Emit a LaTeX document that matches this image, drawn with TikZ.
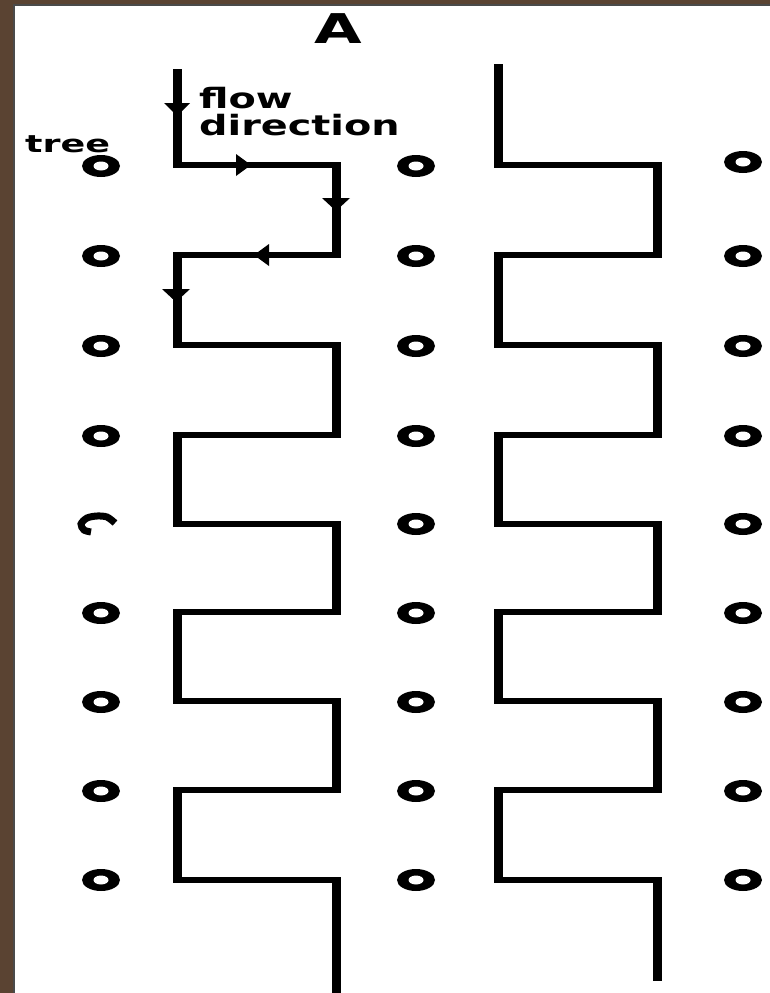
\documentclass[tikz,border=0pt]{standalone}
\usepackage{fontspec}
\newfontfamily\lblfont{DejaVu Sans}
\definecolor{framebrown}{HTML}{5A4332}
\definecolor{edgegray}{HTML}{4A4A4A}
\begin{document}
\begin{tikzpicture}[x=1pt,y=-1pt,
  vline/.style={line width=9pt, shorten <=-3pt, shorten >=-3pt},
  hline/.style={line width=6pt},
  lbl/.style={inner sep=0pt, font=\lblfont\bfseries},
  flowtip/.style={fill=black}]
\useasboundingbox (0,0) rectangle (770,993);
\fill[framebrown] (0,0) rectangle (770,993);
\fill[white] (15,6) rectangle (770,993);
\draw[edgegray, line width=2pt] (14,993) -- (14,5) -- (770,5);

% labels
\node[lbl, anchor=base] (A) at (338,43) {\fontsize{41}{44}\selectfont\scalebox{1.5}[1]{A}};
\node[lbl, anchor=base west] (treelbl) at (25,152) {\fontsize{24}{26}\selectfont\scalebox{1.52}[1]{tree}};
\node[lbl, anchor=base west] (flow) at (199,108) {\fontsize{28}{30}\selectfont\scalebox{1.42}[1]{flow}};
\node[lbl, anchor=base west] (dir) at (199,135) {\fontsize{28}{30}\selectfont\scalebox{1.42}[1]{direction}};

% meanders
\foreach \xl/\xr/\top/\bot in {177/336/72/993, 498/657/67/981} {
  \draw[vline] (\xl,\top) -- (\xl,165);
  \foreach \ya/\yb/\xx in {165/255/\xr, 255/345/\xl, 345/435/\xr, 435/524/\xl,
                           524/612/\xr, 612/701/\xl, 701/790/\xr, 790/880/\xl}
    \draw[vline] (\xx,\ya) -- (\xx,\yb);
  \foreach \y in {165,255,345,435,524,612,701,790,880}
    \draw[hline] (\xl,\y) -- (\xr,\y);
  \draw[vline, shorten >=0pt] (\xr,880) -- (\xr,\bot);
}

% flow arrows
\fill[flowtip, shift={(177,109)}] (-13,-6) -- (13,-6) -- (0,7) -- cycle;
\fill[flowtip, shift={(243,165)}] (-7,-11) -- (-7,11) -- (8,0) -- cycle;
\fill[flowtip, shift={(336,204)}] (-14,-6) -- (14,-6) -- (0,7) -- cycle;
\fill[flowtip, shift={(262,255)}] (7,-11) -- (7,11) -- (-8,0) -- cycle;
\fill[flowtip, shift={(176,295)}] (-14,-6) -- (14,-6) -- (0,7) -- cycle;

% trees
\foreach \x/\y in {101/166,101/256,101/346,101/436,101/613,101/702,101/791,101/880,
                   416/166,416/256,416/346,416/436,416/524,416/613,416/702,416/791,416/880,
                   743/162,743/256,743/346,743/436,743/524,743/613,743/702,743/791,743/880} {
  \fill (\x,\y) ellipse [x radius=19, y radius=11];
  \fill[white] (\x,\y) ellipse [x radius=7.5, y radius=4.5];
}
% broken tree
\draw[line width=7pt] plot[smooth] coordinates {(115,523) (107,517) (97,516) (87,518) (81,524) (84,530) (91,532)};
\end{tikzpicture}
\end{document}
